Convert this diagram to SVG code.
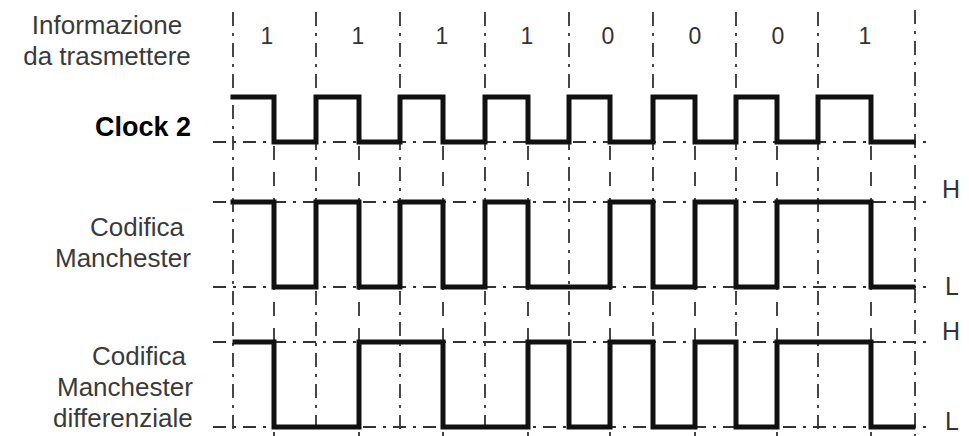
<svg xmlns="http://www.w3.org/2000/svg" width="969" height="436" viewBox="0 0 969 436">
<style>
.lbl{font-family:"Liberation Sans",Arial,sans-serif;font-size:26px;fill:#3a3a3a}
.bit{font-family:"Liberation Sans",Arial,sans-serif;font-size:23px;fill:#333;text-anchor:middle}
.hl{font-family:"Liberation Sans",Arial,sans-serif;font-size:25px;fill:#333}
.clk{font-family:"Liberation Sans",Arial,sans-serif;font-size:27px;font-weight:bold;fill:#000}
.bnd{stroke:#333;stroke-width:1.8;fill:none;stroke-dasharray:14 7 3 7}
.mid{stroke:#333;stroke-width:1.8;fill:none;stroke-dasharray:14 12}
.ref{stroke:#333;stroke-width:1.8;fill:none;stroke-dasharray:13 7 3 7}
.wave{stroke:#111;stroke-width:5;fill:none;stroke-linejoin:miter;stroke-linecap:square}
</style>
<rect width="969" height="436" fill="#fff"/>
<g id="grid">
<path class="bnd" d="M233 12V436M316 12V436M400 12V436M485 12V436M569 12V436M653 12V436M736 12V436M818 12V436M915 10V436"/>
<path class="mid" d="M274 146V436M359 146V436M443 146V436M528 146V436M610 146V436M695 146V436M777 146V436M871 146V436"/>
<path class="ref" d="M213 142H927M213 202H927M213 287H927M213 342H927M213 427H927"/>
</g>
<g id="labels">
<text class="lbl" x="107" y="34" text-anchor="middle" fill="#444">Informazione</text>
<text class="lbl" x="107" y="65" text-anchor="middle">da trasmettere</text>
<text class="clk" x="191" y="136" text-anchor="end">Clock 2</text>
<text class="lbl" x="90" y="236">Codifica</text>
<text class="lbl" x="55" y="267">Manchester</text>
<text class="lbl" x="92" y="365">Codifica</text>
<text class="lbl" x="57" y="396">Manchester</text>
<text class="lbl" x="53" y="427">differenziale</text>
</g>
<g id="bits">
<text class="bit" x="267" y="44">1</text>
<text class="bit" x="358" y="44">1</text>
<text class="bit" x="442" y="44">1</text>
<text class="bit" x="527" y="44">1</text>
<text class="bit" x="608" y="44">0</text>
<text class="bit" x="695" y="44">0</text>
<text class="bit" x="778" y="44">0</text>
<text class="bit" x="865" y="44">1</text>
</g>
<g id="levels">
<text class="hl" x="942" y="198">H</text>
<text class="hl" x="945" y="295">L</text>
<text class="hl" x="942" y="340">H</text>
<text class="hl" x="945" y="430">L</text>
</g>
<g id="clock2">
<path class="wave" d="M233 97H274V142H316V97H359V142H400V97H443V142H485V97H528V142H569V97H610V142H653V97H695V142H736V97H777V142H818V97H871V142H913"/>
</g>
<g id="manchester">
<path class="wave" d="M233 202H274V287H316V202H359V287H400V202H443V287H485V202H528V287H610V202H653V287H695V202H736V287H777V202H871V287H913"/>
</g>
<g id="manchester-diff">
<path class="wave" d="M235 342H274V427H359V342H443V427H528V342H569V427H610V342H653V427H695V342H736V427H777V342H871V427H913"/>
</g>
</svg>
